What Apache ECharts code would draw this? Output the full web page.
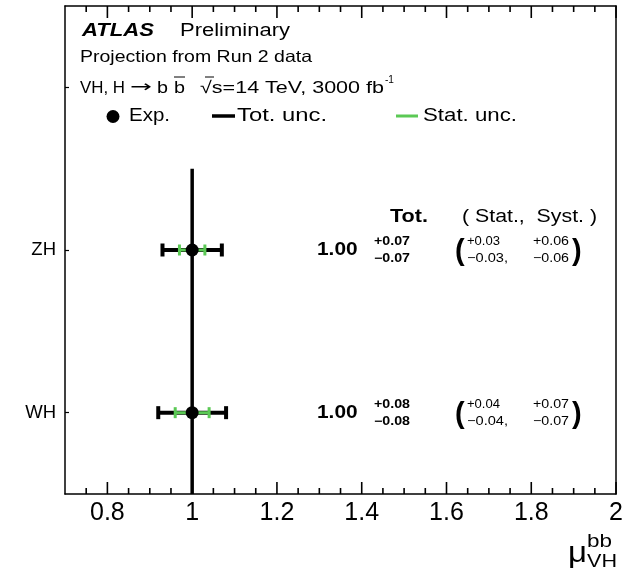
<!DOCTYPE html>
<html>
<head>
<meta charset="utf-8">
<script src="https://cdn.jsdelivr.net/npm/echarts@6/dist/echarts.min.js"></script>
<style>
html, body { margin: 0; padding: 0; background: #fff; }
#main { width: 626px; height: 576px; }
</style>
</head>
<body>
<div id="main"></div>
<script>
// channels, bottom to top
var categories = ['WH', 'ZH'];
var catPos = [1, 2];
var central = [1.00, 1.00];
var totUp = [0.08, 0.07];
var totDown = [0.08, 0.07];
var statUp = [0.04, 0.03];
var statDown = [0.04, 0.03];
var systUp = [0.07, 0.06];
var systDown = [0.07, 0.06];

var smValue = 1;
var smLineY = [0.5, 2.5];
var xRange = [0.7, 2];
var yRange = [0.5, 3.5];
var xTicks = [0.8, 1, 1.2, 1.4, 1.6, 1.8, 2];
var xMinorTicks = [0.75, 0.85, 0.9, 0.95, 1.05, 1.1, 1.15, 1.25, 1.3, 1.35,
                   1.45, 1.5, 1.55, 1.65, 1.7, 1.75, 1.85, 1.9, 1.95];
var yTicks = [1, 2, 3];

var FONT = 'Liberation Sans';
var GREEN = '#5bc955';

var myChart = echarts.init(document.getElementById('main'));

function errorBar(color, width, cap) {
    return function (params, api) {
        var y = api.value(2);
        var p0 = api.coord([api.value(0), y]);
        var p1 = api.coord([api.value(1), y]);
        var st = {stroke: color, lineWidth: width};
        return {
            type: 'group',
            children: [
                {type: 'line', shape: {x1: p0[0], y1: p0[1], x2: p1[0], y2: p1[1]}, style: st},
                {type: 'line', shape: {x1: p0[0], y1: p0[1] - cap, x2: p0[0], y2: p0[1] + cap}, style: st},
                {type: 'line', shape: {x1: p1[0], y1: p1[1] - cap, x2: p1[0], y2: p1[1] + cap}, style: st}
            ]
        };
    };
}

var totData = categories.map(function (c, i) {
    return [central[i] - totDown[i], central[i] + totUp[i], catPos[i]];
});
var statData = categories.map(function (c, i) {
    return [central[i] - statDown[i], central[i] + statUp[i], catPos[i]];
});
var pointData = categories.map(function (c, i) {
    return [central[i], catPos[i]];
});

var frameLine = {show: true, onZero: false, lineStyle: {color: '#000', width: 1.5}};

var option = {
    animation: false,
    backgroundColor: '#fff',
    grid: {left: 65, right: 9, top: 6, bottom: 82},
    xAxis: [
        {
            type: 'value', position: 'bottom', min: xRange[0], max: xRange[1],
            axisLine: frameLine,
            axisTick: {show: false},
            axisLabel: {customValues: xTicks, margin: 7,
                        fontFamily: FONT, fontSize: 25, color: '#000'},
            splitLine: {show: false}
        },
        {
            type: 'value', position: 'top', min: xRange[0], max: xRange[1],
            axisLine: frameLine, axisTick: {show: false},
            axisLabel: {show: false}, splitLine: {show: false}
        }
    ],
    yAxis: [
        {
            type: 'value', position: 'left', min: yRange[0], max: yRange[1],
            axisLine: frameLine,
            axisTick: {show: true, inside: true, length: 4, customValues: yTicks,
                       lineStyle: {color: '#000', width: 1.2}},
            axisLabel: {customValues: catPos, margin: 9, fontFamily: FONT, fontSize: 18.5, color: '#000',
                        formatter: function (v) { return categories[catPos.indexOf(v)] || ''; }},
            splitLine: {show: false}
        },
        {
            type: 'value', position: 'right', min: yRange[0], max: yRange[1],
            axisLine: frameLine,
            axisTick: {show: false}, axisLabel: {show: false}, splitLine: {show: false}
        }
    ],
    series: [
        {
            type: 'line', xAxisIndex: 0, yAxisIndex: 0, symbol: 'none',
            data: [[smValue, smLineY[0]], [smValue, smLineY[1]]],
            lineStyle: {color: '#000', width: 3.5}, z: 2
        },
        {
            type: 'custom', xAxisIndex: 0, yAxisIndex: 0,
            renderItem: errorBar('#000', 4, 6.5),
            encode: {x: [0, 1], y: 2}, data: totData, z: 3
        },
        {
            type: 'custom', xAxisIndex: 0, yAxisIndex: 0,
            renderItem: errorBar(GREEN, 3, 5.5),
            encode: {x: [0, 1], y: 2}, data: statData, z: 4
        },
        {
            type: 'scatter', xAxisIndex: 0, yAxisIndex: 0, symbol: 'circle', symbolSize: 13,
            itemStyle: {color: '#000', opacity: 1}, data: pointData, z: 5
        }
    ]
};
myChart.setOption(option);

// text stretched horizontally to the widths seen in the plot
var measureCtx = document.createElement('canvas').getContext('2d');
function txt(x, y, s, size, width, weight, style, family) {
    var font = (style || 'normal') + ' ' + (weight || 'normal') + ' ' + size + 'px "' + (family || FONT) + '"';
    measureCtx.font = font;
    var sx = width ? width / measureCtx.measureText(s).width : 1;
    return {
        type: 'text', x: x, y: y, scaleX: sx, z: 10,
        style: {
            text: s, font: font, fill: '#000',
            align: 'left', verticalAlign: 'middle',
            textAlign: 'left', textVerticalAlign: 'middle'
        }
    };
}
function hline(x1, x2, y, color, w) {
    return {type: 'line', z: 10, shape: {x1: x1, y1: y, x2: x2, y2: y},
            style: {stroke: color, lineWidth: w}};
}
function vline(x, y1, y2) {
    return {type: 'line', z: 10, shape: {x1: x, y1: y1, x2: x, y2: y2},
            style: {stroke: '#000', lineWidth: 1.6}};
}

var fmt = function (v) { return v.toFixed(2); };
var g = [
    txt(82, 31, 'ATLAS', 17.5, 72, 'bold', 'italic'),
    txt(180, 31, 'Preliminary', 17.5, 110),
    txt(80, 57.5, 'Projection from Run 2 data', 16.5, 232),
    txt(80, 88, 'VH, H', 17, 45),
    txt(130, 88, '\u2192', 16, 22, 'normal', 'normal', 'DejaVu Sans'),
    txt(157, 88, 'b', 17, 11),
    txt(174, 88, 'b', 17, 11),
    hline(174, 185, 77, '#000', 1),
    txt(200, 88, '\u221As=14 TeV, 3000 fb', 17, 184),
    hline(205, 214, 77, '#000', 1),
    txt(385, 80, '-1', 11, 9),
    {type: 'circle', z: 10, shape: {cx: 113, cy: 116.5, r: 6.5}, style: {fill: '#000'}},
    txt(129, 116, 'Exp.', 17.5, 41),
    hline(212, 235, 116, '#000', 3.5),
    txt(237, 116, 'Tot. unc.', 17.5, 90),
    hline(396, 418, 116, GREEN, 3),
    txt(423, 116, 'Stat. unc.', 17.5, 94),
    txt(390, 217, 'Tot.', 17.5, 38, 'bold'),
    txt(462, 217, '( Stat.,  Syst. )', 17.5, 135)
];

// inward ticks on the bottom and top frame, placed through the x scale
function addTicks(values, len) {
    values.forEach(function (v) {
        var b = myChart.convertToPixel({xAxisIndex: 0, yAxisIndex: 0}, [v, yRange[0]]);
        var t = myChart.convertToPixel({xAxisIndex: 0, yAxisIndex: 0}, [v, yRange[1]]);
        g.push(vline(b[0], b[1], b[1] - len), vline(t[0], t[1], t[1] + len));
    });
}
addTicks(xTicks, 12);
addTicks(xMinorTicks, 6);

categories.forEach(function (c, i) {
    var py = myChart.convertToPixel({xAxisIndex: 0, yAxisIndex: 0}, [smValue, catPos[i]])[1];
    g.push(
        txt(317, py, fmt(central[i]), 18.5, 40.6, 'bold'),
        txt(374, py - 8, '+' + fmt(totUp[i]), 12, 36, 'bold'),
        txt(374, py + 9, '\u2212' + fmt(totDown[i]), 12, 36, 'bold'),
        txt(455, py + 2, '(', 29, 0, 'bold'),
        txt(467, py - 8, '+' + fmt(statUp[i]), 12.5, 33),
        txt(467, py + 9, '\u2212' + fmt(statDown[i]) + ',', 12.5, 41),
        txt(533, py - 8, '+' + fmt(systUp[i]), 12.5, 36),
        txt(533, py + 9, '\u2212' + fmt(systDown[i]), 12.5, 36),
        txt(572, py + 2, ')', 29, 0, 'bold')
    );
});
// axis title: mu_VH^bb
g.push(
    txt(568, 554, '\u03BC', 30, 19),
    txt(587, 542, 'bb', 18, 25),
    txt(587, 562, 'VH', 18, 30)
);
myChart.setOption({graphic: g});
</script>
</body>
</html>
